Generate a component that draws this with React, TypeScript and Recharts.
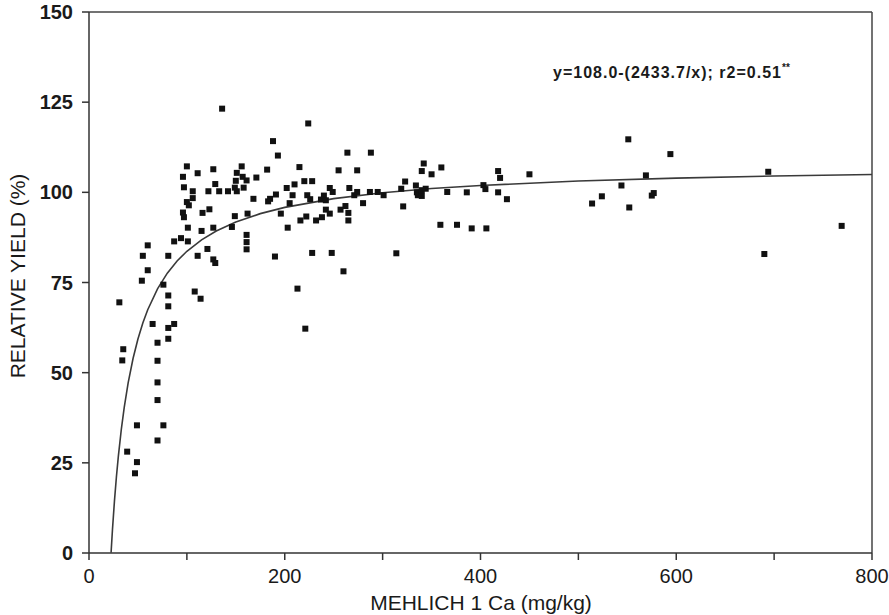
import React from 'react';
import { ScatterChart, Scatter, XAxis, YAxis, ReferenceLine, Label } from 'recharts';

// Observed (Mehlich 1 Ca mg/kg, relative yield %)
const caValues = [
  31, 35, 34, 39, 49, 49, 47, 54, 55, 60, 60, 65, 70, 70, 70, 70, 70, 76, 76, 81,
  81, 81, 81, 81, 87, 87, 94, 101, 101, 96, 97, 100, 102, 106, 97, 106, 96, 100, 111, 108,
  114, 111, 115, 116, 123, 122, 121, 127, 129, 127, 129, 127, 133, 136, 142, 146, 149, 149, 150, 151,
  151, 156, 157, 158, 161, 161, 161, 161, 162, 168, 171, 182, 183, 185, 188, 193, 190, 191, 196, 202,
  203, 205, 208, 210, 213, 215, 216, 220, 221, 222, 223, 224, 226, 228, 228, 232, 238, 237, 240, 242,
  242, 246, 246, 248, 249, 255, 257, 260, 262, 264, 265, 265, 266, 271, 274, 274, 280, 287, 288, 295,
  301, 314, 319, 321, 323, 334, 335, 336, 340, 340, 340, 342, 344, 350, 360, 359, 366, 376, 386, 391,
  403, 405, 406, 418, 420, 418, 427, 450, 514, 524, 544, 551, 552, 569, 575, 577, 594, 690, 694, 769,
];
const yieldValues = [
  69.5, 56.5, 53.4, 28.1, 35.4, 25.2, 22.1, 75.5, 82.4, 85.3, 78.4, 63.5, 58.3, 53.3, 47.3, 42.4, 31.2, 35.4, 74.4, 82.4,
  71.4, 68.4, 62.4, 59.4, 63.5, 86.4, 87.3, 86.4, 90.2, 94.4, 93.1, 97.3, 96.4, 98.4, 101.4, 100.3, 104.3, 107.2, 105.3, 72.5,
  70.5, 82.4, 89.3, 94.3, 95.3, 100.3, 84.3, 81.4, 80.4, 90.2, 102.3, 106.4, 100.3, 123.2, 100.3, 90.4, 93.4, 101.3, 103.2, 105.4,
  100.3, 107.2, 104.3, 101.3, 103.3, 88.2, 86.2, 84.2, 94.1, 98.2, 104.1, 106.3, 97.5, 98.2, 114.2, 110.2, 82.2, 99.4, 94.1, 101.2,
  90.2, 97, 99.2, 102.2, 73.3, 107, 92.2, 103.1, 62.2, 93.3, 99.2, 119.1, 98.1, 83.2, 103.1, 92.2, 93.1, 98, 99.1, 97.8,
  95.2, 101.2, 94.1, 83.2, 100.1, 106.1, 95.2, 78.1, 96.2, 111, 94.3, 92.2, 101.2, 99.2, 100.1, 106.1, 97, 100.1, 111, 100.1,
  99.2, 83.1, 101, 96.1, 103, 101.9, 100, 99.2, 99, 100.6, 105.9, 108, 101, 105, 106.9, 91, 100.1, 91, 100, 90,
  102, 100.9, 90, 105.9, 104, 100, 98.1, 105, 96.9, 98.9, 101.9, 114.7, 95.8, 104.7, 99.1, 99.8, 110.6, 82.9, 105.7, 90.7,
];

// Fitted model y = a - b / x (as printed on the chart)
const fitA = 108.0;
const fitB = 2433.7;
const curveX = [22.55, 24, 26, 28, 30, 33, 36, 40, 45, 50, 55, 60, 70, 80, 90, 100, 115, 130, 150, 175, 200, 250, 300, 350, 400, 500, 600, 700, 800];

const xTicks = [0, 100, 200, 300, 400, 500, 600, 700, 800];
const yTicks = [0, 25, 50, 75, 100, 125, 150];

const points = caValues.map((x, i) => ({ x, y: yieldValues[i] }));
const curve = curveX.map((x) => ({ x, y: fitA - fitB / x }));

const FONT = '"Liberation Sans", Arial, Helvetica, sans-serif';

const Square = (props: any) => {
  const { cx, cy } = props;
  if (cx == null || cy == null) return <g />;
  return <rect x={cx - 3} y={cy - 3} width={6} height={6} fill="#111" />;
};

const NoDot = () => <g />;

export default function App() {
  return (
    <div style={{ position: 'absolute', left: 0, top: 0, width: 889, height: 615, background: '#fff' }}>
      <ScatterChart width={889} height={615} margin={{ top: 12, right: 17, bottom: 22, left: 30 }}>
        <XAxis
          type="number"
          dataKey="x"
          domain={[0, 800]}
          ticks={xTicks}
          allowDataOverflow
          tickFormatter={(v: number) => (v % 200 === 0 ? String(v) : '')}
          tickSize={7}
          tickMargin={9}
          height={40}
          stroke="#333"
          strokeWidth={1.5}
          tick={{ fill: '#1a1a1a', fontSize: 20, fontFamily: FONT }}
        >
          <Label
            content={() => (
              <text x={481} y={610} textAnchor="middle" fontSize={21} fontFamily={FONT} fill="#1a1a1a">
                MEHLICH 1 Ca (mg/kg)
              </text>
            )}
          />
        </XAxis>
        <YAxis
          type="number"
          dataKey="y"
          domain={[0, 150]}
          ticks={yTicks}
          allowDataOverflow
          tickSize={7}
          tickMargin={9}
          width={59}
          stroke="#333"
          strokeWidth={1.5}
          tick={{ fill: '#1a1a1a', fontSize: 20, fontFamily: FONT, fontWeight: 'bold' }}
        >
          <Label
            content={() => (
              <g>
                <text
                  x={25}
                  y={276}
                  transform="rotate(-90 25 276)"
                  textAnchor="middle"
                  fontSize={21}
                  fontFamily={FONT}
                  fill="#1a1a1a"
                >
                  RELATIVE YIELD (%)
                </text>
                <text x={553} y={78} fontSize={16} fontWeight="bold" letterSpacing={1} fontFamily={FONT} fill="#1a1a1a">
                  y=108.0-(2433.7/x); r2=0.51
                </text>
                <text x={782} y={71} fontSize={10} fontWeight="bold" fontFamily={FONT} fill="#1a1a1a">
                  **
                </text>
              </g>
            )}
          />
        </YAxis>
        <ReferenceLine y={150} stroke="#444" strokeWidth={1.5} ifOverflow="extendDomain" />
        <ReferenceLine x={800} stroke="#444" strokeWidth={1.5} ifOverflow="extendDomain" />
        <Scatter
          data={curve}
          line={{ stroke: '#3a3a3a', strokeWidth: 1.6 }}
          lineType="joint"
          shape={NoDot}
          isAnimationActive={false}
        />
        <Scatter data={points} shape={Square} isAnimationActive={false} />
      </ScatterChart>
    </div>
  );
}
